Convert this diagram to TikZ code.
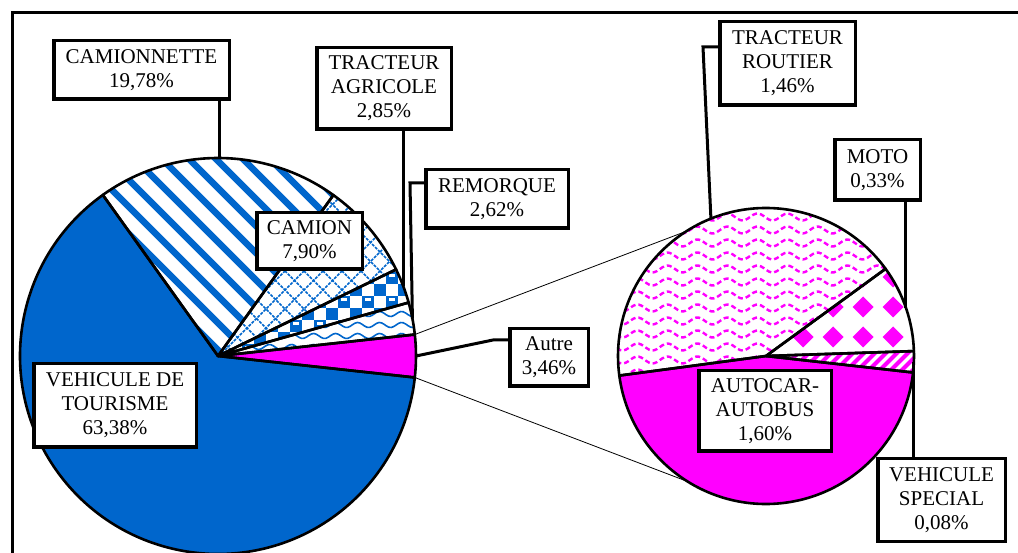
\documentclass[tikz,border=0pt]{standalone}
\usepackage{fontspec}
\setmainfont{Liberation Serif}
\usetikzlibrary{calc}
\definecolor{pblue}{RGB}{0,102,204}
\definecolor{pmag}{RGB}{255,0,255}
\newcommand\leftslice[3]{\path[#1] (218,196) -- ++(#2:198) arc[start angle=#2, end angle=#3, radius=198] -- cycle;}
\newcommand\rightslice[3]{\path[#1] (766,196) -- ++(#2:148) arc[start angle=#2, end angle=#3, radius=148] -- cycle;}
\begin{document}
\begin{tikzpicture}[x=1pt,y=1pt,
  lbl/.style={draw, line width=3.5pt, fill=white, align=center, inner sep=0pt,
    font=\fontsize{21}{24}\selectfont},
  edge/.style={draw=black, line width=2.6pt, line join=round},
  lead/.style={line width=3pt},
  thinlink/.style={line width=0.8pt}]
\useasboundingbox (0,0) rectangle (1018,552);
\clip (0,0) rectangle (1018,552);
\fill[white] (0,0) rectangle (1018,552);
% frame
\draw[line width=3pt] (12,-5) -- (12,539) -- (1030,539);

\coordinate (L) at (218,196);
\coordinate (R) at (766,196);

% ---------- left pie fills ----------
\leftslice{fill=pblue}{125.57}{353.77}
\leftslice{fill=pmag}{-6.23}{6.23}
\leftslice{fill=white}{6.23}{125.57}
% camionnette stripes
\begin{scope}
\leftslice{clip}{54.36}{125.57}
\foreach \c in {150,177,...,900} \draw[pblue, line width=6.5pt] (\c-400,400) -- (\c,0);
\end{scope}
% camion lattice
\begin{scope}
\leftslice{clip}{25.92}{54.36}
\foreach \c in {300,319,...,900} \draw[pblue, line width=1.5pt, dash pattern=on 3pt off 1.2pt] (\c-400,400) -- (\c,0);
\foreach \d in {-300,-281,...,400} \draw[pblue, line width=1.5pt, dash pattern=on 3pt off 1.2pt] (\d,0) -- (\d+400,400);
\end{scope}
% tracteur agricole checker
\begin{scope}
\leftslice{clip}{15.66}{25.92}
\foreach \i in {0,...,9} \foreach \j in {0,...,4} {
  \fill[pblue] (218+24*\i,196+24*\j) rectangle ++(12,12);
  \fill[pblue] (230+24*\i,208+24*\j) rectangle ++(12,12);
  \fill[white] (221+24*\i,203+24*\j) rectangle ++(6,2.5);
}
\end{scope}
% remorque waves
\begin{scope}
\leftslice{clip}{6.23}{15.66}
\foreach \j in {0,...,6} \draw[pblue, line width=1.6pt] plot[domain=210:425, samples=90] (\x,{194+11*\j+2.5*sin(16.36*\x)});
\end{scope}
% left outlines
\leftslice{edge}{125.57}{353.77}
\leftslice{edge}{-6.23}{6.23}
\leftslice{edge}{6.23}{15.66}
\leftslice{edge}{15.66}{25.92}
\leftslice{edge}{25.92}{54.36}
\leftslice{edge}{54.36}{125.57}

% ---------- right pie fills ----------
\rightslice{fill=pmag}{187.6}{353.6}
\rightslice{fill=white}{-6.4}{187.6}
% tracteur routier waves
\begin{scope}
\rightslice{clip}{36.1}{187.6}
\foreach \j in {0,...,14} \draw[pmag, line width=2.4pt, dash pattern=on 5pt off 3pt] plot[domain=610:920, samples=120] (\x,{166+13*\j+3.5*sin(12*\x)});
\end{scope}
% moto diamonds
\begin{scope}
\rightslice{clip}{1.9}{36.1}
\foreach \i in {-3,...,3} \foreach \j in {-1,...,3}
  \fill[pmag] (833+30*\i,215+30*\j) +(0,10.5) -- +(10.5,0) -- +(0,-10.5) -- +(-10.5,0) -- cycle;
\end{scope}
% vehicule special stripes
\begin{scope}
\rightslice{clip}{-6.4}{1.9}
\foreach \d in {500,511,...,800} \draw[pmag, line width=4pt] (\d,0) -- (\d+400,400);
\end{scope}
% right outlines
\rightslice{edge}{187.6}{353.6}
\rightslice{edge}{-6.4}{1.9}
\rightslice{edge}{1.9}{36.1}
\rightslice{edge}{36.1}{187.6}

% ---------- connecting thin lines ----------
\coordinate (la) at ($(L)+(6.23:198)$);
\coordinate (lb) at ($(L)+(-6.23:198)$);
\coordinate (ra) at ($(R)+(122.5:148)$);
\coordinate (rb) at ($(R)+(-122:148)$);
\draw[thinlink] (la) -- (ra);
\draw[thinlink] (lb) -- (rb);

% ---------- labels ----------
\node[lbl, minimum width=175.5pt, minimum height=58.5pt] (cam) at (141.5,482) {CAMIONNETTE\\19,78\%};
\node[lbl, minimum width=134.5pt, minimum height=81.5pt] (ta) at (384,463.5) {TRACTEUR\\AGRICOLE\\2,85\%};
\node[lbl, minimum width=142.5pt, minimum height=58.5pt] (rem) at (497,353) {REMORQUE\\2,62\%};
\node[lbl, minimum width=105.5pt, minimum height=56.5pt] (cmn) at (309.5,311) {CAMION\\7,90\%};
\node[lbl, minimum width=162.5pt, minimum height=83.5pt] (tour) at (115,146.5) {VEHICULE DE\\TOURISME\\63,38\%};
\node[lbl, minimum width=78.5pt, minimum height=57.5pt] (aut) at (549,194.5) {Autre\\3,46\%};
\node[lbl, minimum width=135.5pt, minimum height=83.5pt] (tr) at (787.5,488.5) {TRACTEUR\\ROUTIER\\1,46\%};
\node[lbl, minimum width=85.5pt, minimum height=60.5pt] (moto) at (877.5,382) {MOTO\\0,33\%};
\node[lbl, minimum width=127.5pt, minimum height=82.5pt] (vs) at (941.5,52) {VEHICULE\\SPECIAL\\0,08\%};
\node[lbl, minimum width=132.5pt, minimum height=80.5pt] (aa) at (765,141) {AUTOCAR-\\AUTOBUS\\1,60\%};

% ---------- leader lines ----------
\coordinate (pCam) at ($(L)+(89.7:198)$);
\coordinate (pTA) at ($(L)+(20.8:198)$);
\coordinate (pRem) at ($(L)+(10.9:198)$);
\coordinate (pAut) at ($(L)+(0:198)$);
\coordinate (pTR) at ($(R)+(111.85:148)$);
\coordinate (pMoto) at ($(R)+(19:148)$);
\coordinate (pVS) at ($(R)+(-2.25:148)$);
\coordinate (remK) at (410,369);
\coordinate (autK) at (493,212);
\coordinate (trK) at (703,505);
\draw[lead] (cam.south -| pCam) -- (pCam);
\draw[lead] (ta.south -| pTA) -- (pTA);
\draw[lead] (rem.west |- remK) -- (remK) -- (pRem);
\draw[lead] (aut.west |- autK) -- (autK) -- (pAut);
\draw[lead] (tr.west |- trK) -- (trK) -- (pTR);
\draw[lead] (moto.south -| pMoto) -- (pMoto);
\draw[lead] (vs.north -| pVS) -- (pVS);
\end{tikzpicture}
\end{document}
